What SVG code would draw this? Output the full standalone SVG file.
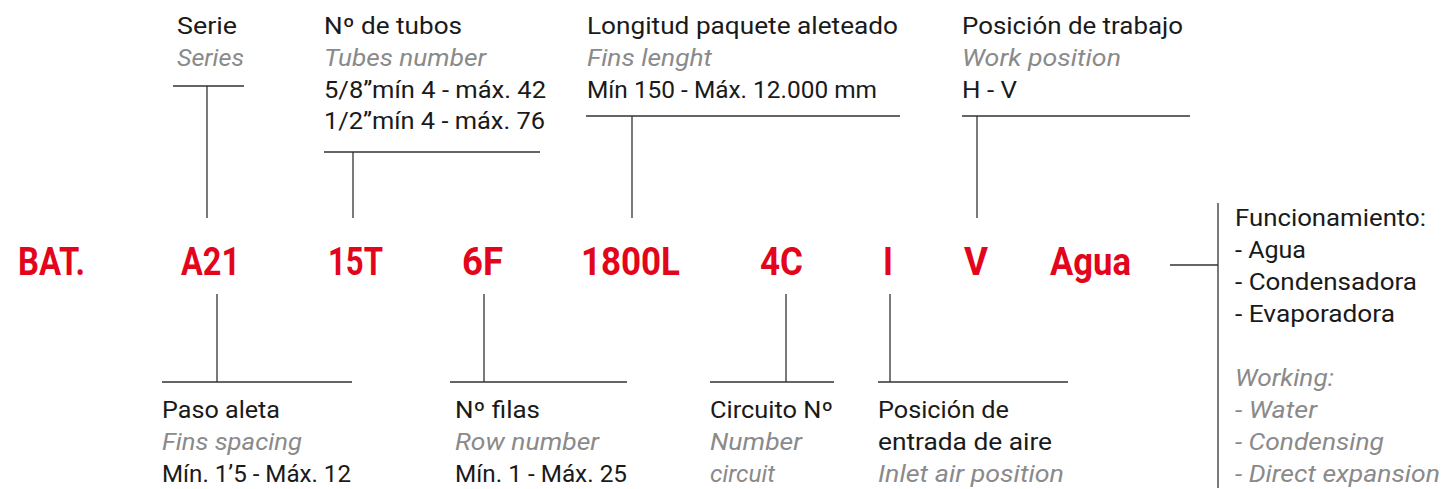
<svg xmlns="http://www.w3.org/2000/svg" width="1443" height="489" viewBox="0 0 1443 489">
<style>
.t{font-family:Roboto,"Liberation Sans",sans-serif;font-size:23px;fill:#1a1a1a}
.i{font-family:Roboto,"Liberation Sans",sans-serif;font-size:23px;font-style:italic;fill:#8a8a8a}
.c{font-family:Roboto,"Liberation Sans",sans-serif;font-size:38px;font-weight:bold;fill:#e3051b}
.l{stroke:#333;stroke-width:1.3;fill:none}
</style>
<rect width="1443" height="489" fill="#fff"/>
<g id="codes">
<text class="c" x="18" y="275" textLength="67" lengthAdjust="spacingAndGlyphs">BAT.</text>
<text class="c" x="181" y="275" textLength="59" lengthAdjust="spacingAndGlyphs">A21</text>
<text class="c" x="328" y="275" textLength="55" lengthAdjust="spacingAndGlyphs">15T</text>
<text class="c" x="462" y="275" textLength="41" lengthAdjust="spacingAndGlyphs">6F</text>
<text class="c" x="581" y="275" textLength="99" lengthAdjust="spacingAndGlyphs">1800L</text>
<text class="c" x="760" y="275" textLength="43" lengthAdjust="spacingAndGlyphs">4C</text>
<text class="c" x="883" y="275" textLength="10" lengthAdjust="spacingAndGlyphs">I</text>
<text class="c" x="964" y="275" textLength="24" lengthAdjust="spacingAndGlyphs">V</text>
<text class="c" x="1050" y="275" textLength="81" lengthAdjust="spacingAndGlyphs">Agua</text>
</g>
<g id="connectors">
<path class="l" d="M173 86H244M207 86V218"/>
<path class="l" d="M324 152H540M353 152V218"/>
<path class="l" d="M586 116H900M632 116V218"/>
<path class="l" d="M962 116H1190M977 116V218"/>
<path class="l" d="M162 382H352M217 382V294"/>
<path class="l" d="M450 382H627M484 382V294"/>
<path class="l" d="M710 382H834M786 382V294"/>
<path class="l" d="M878 382H1068M890 382V294"/>
<path class="l" d="M1170 265H1218M1218 203V488"/>
</g>
<g id="serie">
<text class="t" x="177" y="34" textLength="60" lengthAdjust="spacingAndGlyphs">Serie</text>
<text class="i" x="177" y="66" textLength="67" lengthAdjust="spacingAndGlyphs">Series</text>
</g>
<g id="tubos">
<text class="t" x="324" y="34" textLength="138" lengthAdjust="spacingAndGlyphs">Nº de tubos</text>
<text class="i" x="324" y="66" textLength="162" lengthAdjust="spacingAndGlyphs">Tubes number</text>
<text class="t" x="324" y="98" textLength="222" lengthAdjust="spacingAndGlyphs">5/8”mín 4 - máx. 42</text>
<text class="t" x="324" y="129" textLength="221" lengthAdjust="spacingAndGlyphs">1/2”mín 4 - máx. 76</text>
</g>
<g id="longitud">
<text class="t" x="587" y="34" textLength="311" lengthAdjust="spacingAndGlyphs">Longitud paquete aleteado</text>
<text class="i" x="587" y="66" textLength="125" lengthAdjust="spacingAndGlyphs">Fins lenght</text>
<text class="t" x="587" y="98" textLength="290" lengthAdjust="spacingAndGlyphs">Mín 150 - Máx. 12.000 mm</text>
</g>
<g id="trabajo">
<text class="t" x="962" y="34" textLength="221" lengthAdjust="spacingAndGlyphs">Posición de trabajo</text>
<text class="i" x="962" y="66" textLength="159" lengthAdjust="spacingAndGlyphs">Work position</text>
<text class="t" x="962" y="98" textLength="55" lengthAdjust="spacingAndGlyphs">H - V</text>
</g>
<g id="paso">
<text class="t" x="162" y="418" textLength="118" lengthAdjust="spacingAndGlyphs">Paso aleta</text>
<text class="i" x="162" y="450" textLength="140" lengthAdjust="spacingAndGlyphs">Fins spacing</text>
<text class="t" x="162" y="482" textLength="189" lengthAdjust="spacingAndGlyphs">Mín. 1’5 - Máx. 12</text>
</g>
<g id="filas">
<text class="t" x="455" y="418" textLength="85" lengthAdjust="spacingAndGlyphs">Nº filas</text>
<text class="i" x="455" y="450" textLength="144" lengthAdjust="spacingAndGlyphs">Row number</text>
<text class="t" x="455" y="482" textLength="172" lengthAdjust="spacingAndGlyphs">Mín. 1 - Máx. 25</text>
</g>
<g id="circuito">
<text class="t" x="710" y="418" textLength="123" lengthAdjust="spacingAndGlyphs">Circuito Nº</text>
<text class="i" x="710" y="450" textLength="92" lengthAdjust="spacingAndGlyphs">Number</text>
<text class="i" x="710" y="482" textLength="65" lengthAdjust="spacingAndGlyphs">circuit</text>
</g>
<g id="entrada">
<text class="t" x="878" y="418" textLength="131" lengthAdjust="spacingAndGlyphs">Posición de</text>
<text class="t" x="878" y="450" textLength="174" lengthAdjust="spacingAndGlyphs">entrada de aire</text>
<text class="i" x="878" y="482" textLength="186" lengthAdjust="spacingAndGlyphs">Inlet air position</text>
</g>
<g id="funcionamiento">
<text class="t" x="1235" y="226" textLength="191" lengthAdjust="spacingAndGlyphs">Funcionamiento:</text>
<text class="t" x="1235" y="258" textLength="71" lengthAdjust="spacingAndGlyphs">- Agua</text>
<text class="t" x="1235" y="290" textLength="182" lengthAdjust="spacingAndGlyphs">- Condensadora</text>
<text class="t" x="1235" y="322" textLength="160" lengthAdjust="spacingAndGlyphs">- Evaporadora</text>
<text class="i" x="1235" y="386" textLength="99" lengthAdjust="spacingAndGlyphs">Working:</text>
<text class="i" x="1235" y="418" textLength="82" lengthAdjust="spacingAndGlyphs">- Water</text>
<text class="i" x="1235" y="450" textLength="149" lengthAdjust="spacingAndGlyphs">- Condensing</text>
<text class="i" x="1235" y="482" textLength="205" lengthAdjust="spacingAndGlyphs">- Direct expansion</text>
</g>
</svg>
